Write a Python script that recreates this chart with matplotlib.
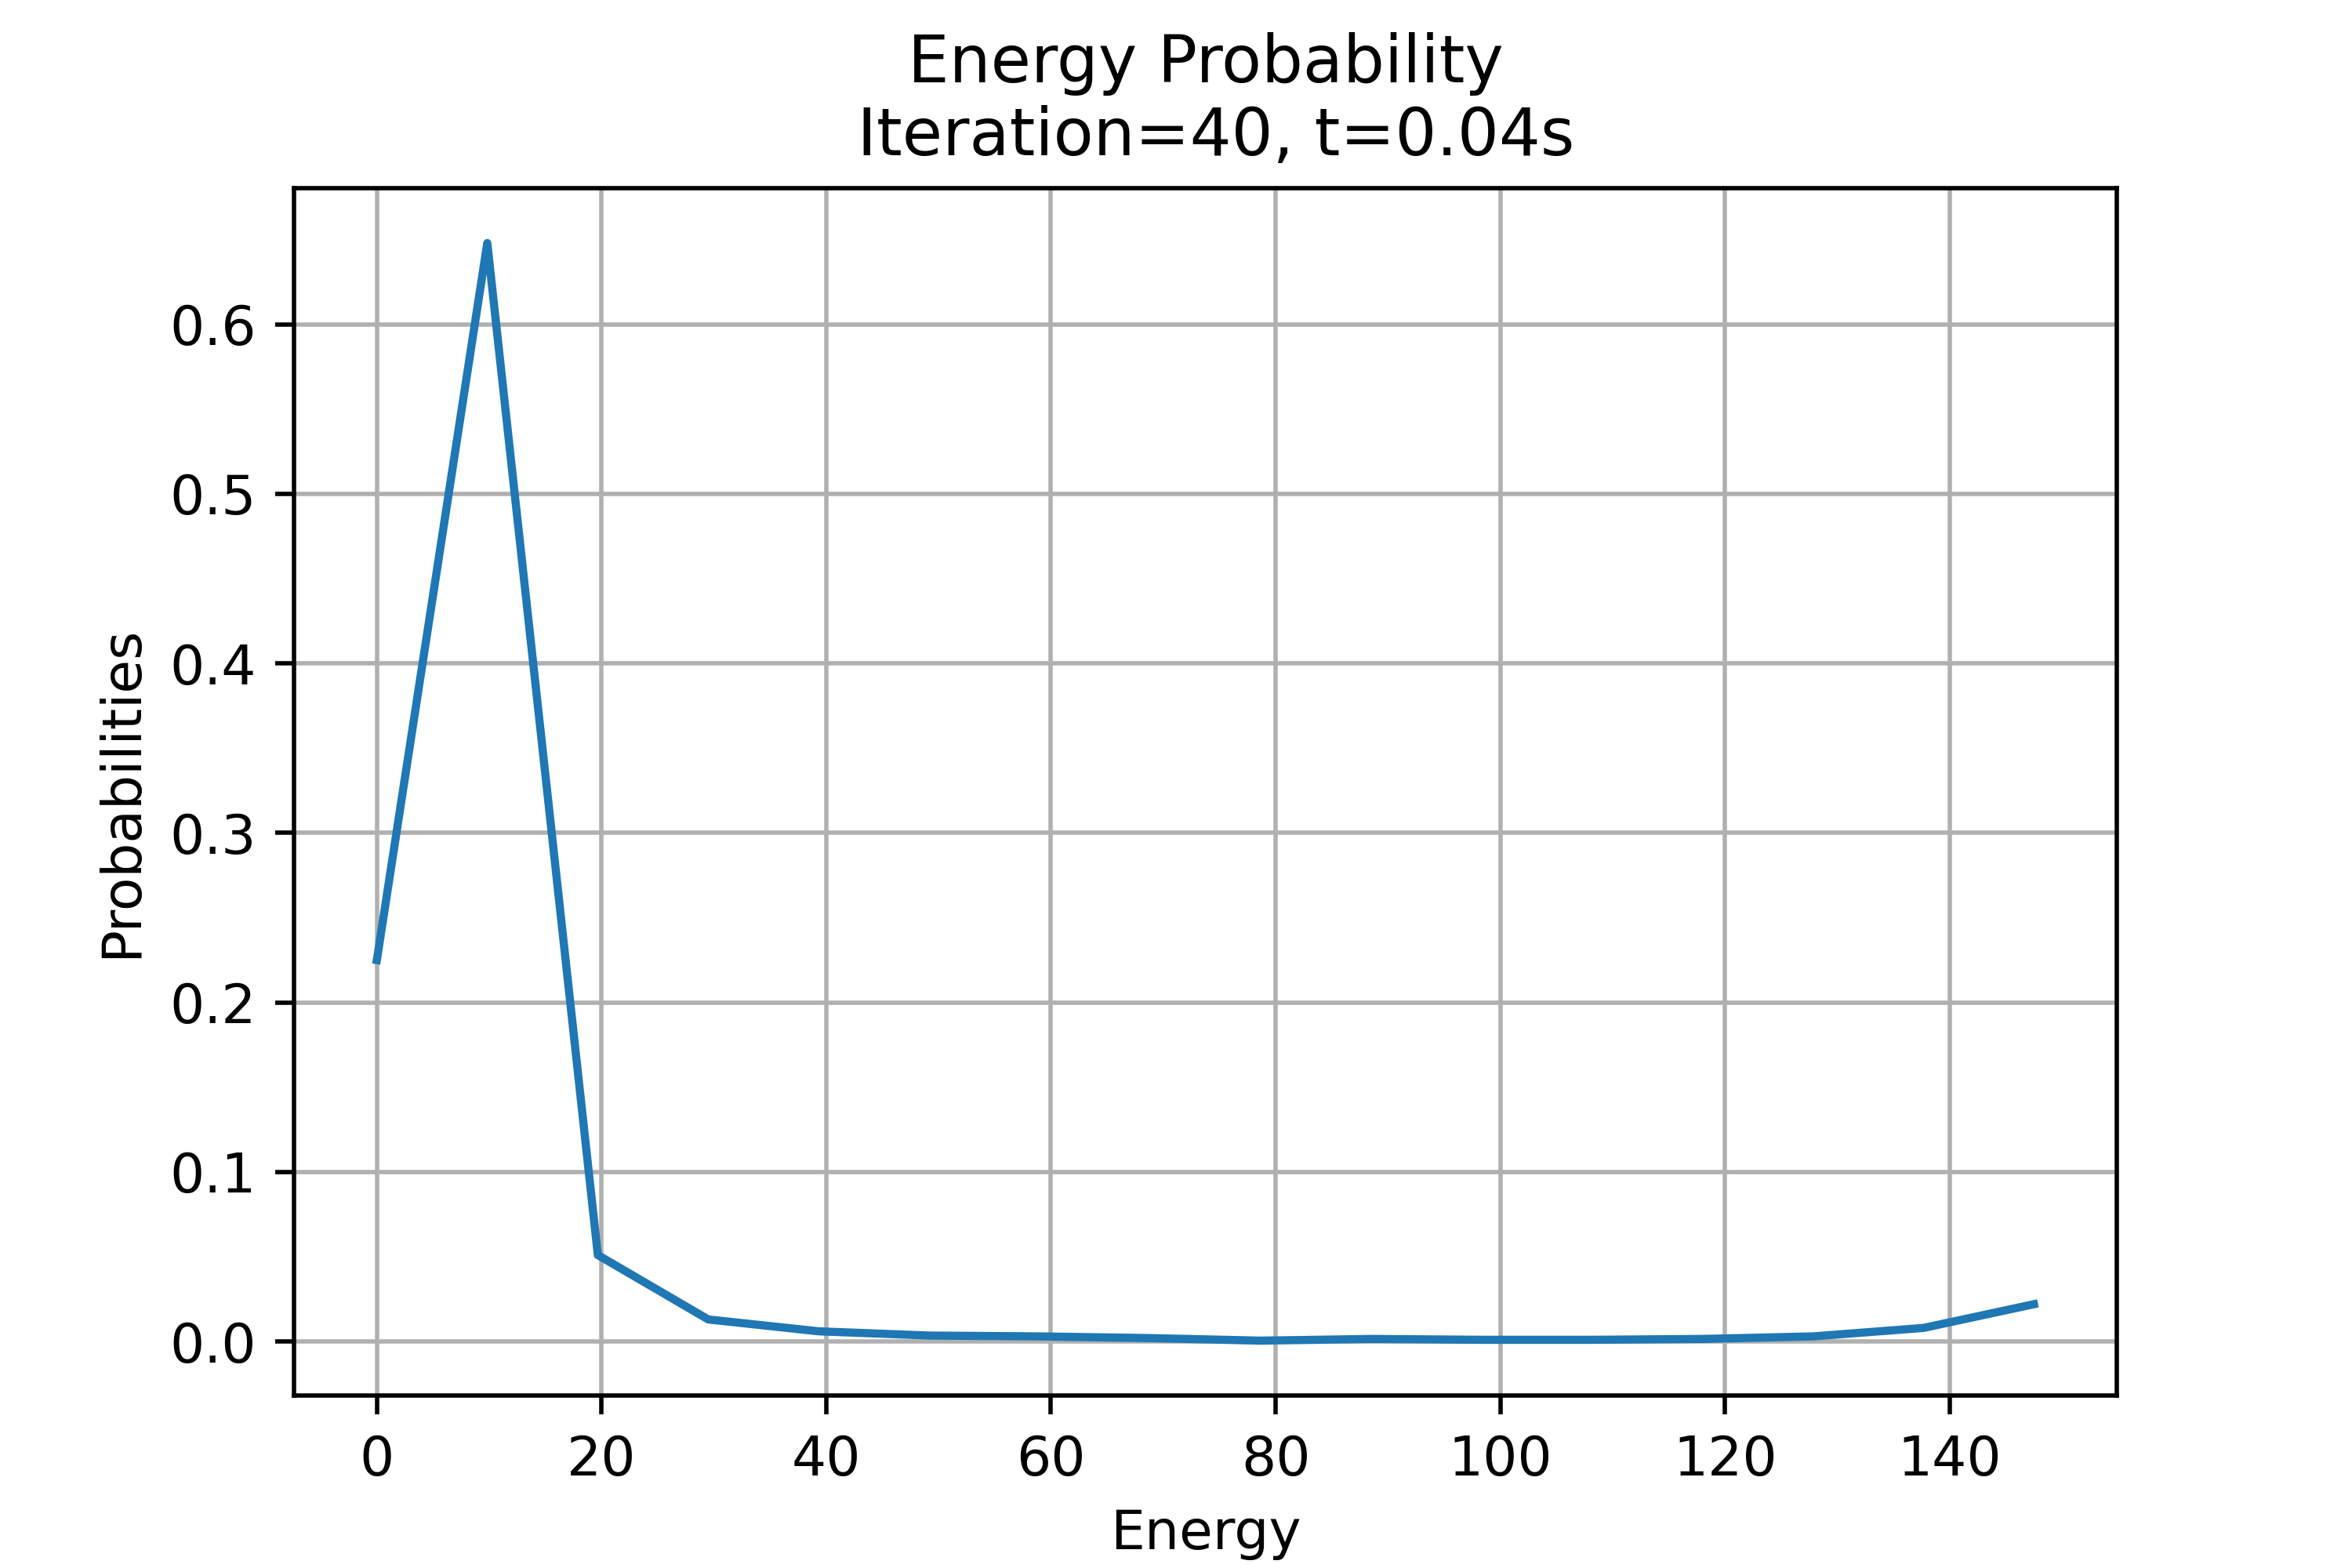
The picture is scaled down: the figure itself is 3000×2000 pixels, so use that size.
import matplotlib
matplotlib.use("Agg")
import matplotlib.pyplot as plt

energy = [0.0, 9.83, 19.67, 29.5, 39.33, 49.17, 59.0, 68.83, 78.67, 88.5,
          98.33, 108.17, 118.0, 127.83, 137.67, 147.5]
probabilities = [0.225, 0.648, 0.051, 0.013, 0.006, 0.0035, 0.003, 0.002, 0.0005,
                 0.0015, 0.001, 0.001, 0.0015, 0.003, 0.008, 0.022]

fig, ax = plt.subplots(figsize=(6, 4), dpi=500)
ax.plot(energy, probabilities, color="#1f77b4")
ax.set_title("Energy Probability\n Iteration=40, t=0.04s")
ax.set_xlabel("Energy")
ax.set_ylabel("Probabilities")
ax.grid(True)
fig.savefig("out.png")
